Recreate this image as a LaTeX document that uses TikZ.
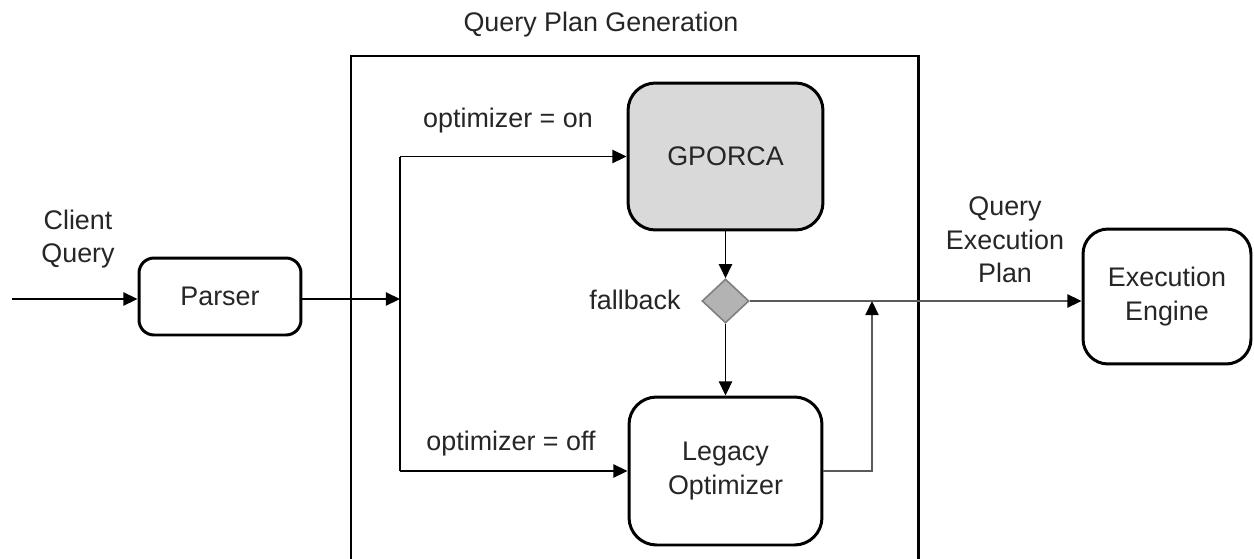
\documentclass[tikz,border=0pt]{standalone}
\usepackage{fontspec}
\setmainfont{Liberation Sans}
\usetikzlibrary{arrows.meta,shapes.geometric}
\definecolor{txt}{HTML}{262626}
\definecolor{gfill}{HTML}{D9D9D9}
\definecolor{dfill}{HTML}{B3B3B3}
\definecolor{dline}{HTML}{7F7F7F}
\definecolor{cline}{HTML}{5A5A5A}
\tikzset{
  every node/.style={font=\fontsize{15.3}{19}\selectfont, text=txt},
  box/.style={draw=black, line width=1.7pt, rounded corners=0.4cm, align=center, inner sep=0pt},
  lbl/.style={align=center, inner sep=0pt},
  conn/.style={draw=black, line width=0.9pt},
  gconn/.style={draw=cline, line width=0.9pt},
  tip/.style={-{Triangle[length=8pt,width=7.5pt,color=black]}},
  decision/.style={diamond, draw=dline, fill=dfill, line width=0.9pt, inner sep=0pt, minimum width=0.94cm, minimum height=0.88cm}
}
\begin{document}
\begin{tikzpicture}[x=0.02cm, y=-0.02cm]
\clip (0,0) rectangle (1254,558);
\fill[white] (0,0) rectangle (1254,558);
% outer frame
\node[lbl] (title) at (601,25) {Query Plan Generation};
\draw[line width=1.7pt] (351,600) -- (351,56) -- (918,56) -- (918,600);
% nodes
\node[box, rounded corners=0.3cm, minimum width=3.24cm, minimum height=1.54cm] (parser) at (220,296.5) {Parser};
\node[box, fill=gfill, rounded corners=0.55cm, minimum width=3.9cm, minimum height=2.94cm] (gporca) at (725.5,156.5) {GPORCA};
\node[box, rounded corners=0.55cm, minimum width=3.86cm, minimum height=2.96cm] (legacy) at (725.5,471) {Legacy\\Optimizer};
\node[box, rounded corners=0.5cm, minimum width=3.36cm, minimum height=2.7cm] (exec) at (1167,296.5) {Execution\\Engine};
\node[decision] (fb) at (725.5,301) {};
% labels
\node[lbl] (client) at (78,239) {Client\\Query};
\node[lbl] (qep) at (1005,240) {Query\\Execution\\Plan};
\node[lbl] (onlbl) at (508,121) {optimizer = on};
\node[lbl] (offlbl) at (511,444) {optimizer = off};
\node[lbl] (fblbl) at (635,300) {fallback};
% coordinates
\coordinate (start) at (12,299);
\coordinate (split) at (400,299);
\coordinate (top) at (split |- gporca.west);
\coordinate (bot) at (split |- legacy.west);
\coordinate (merge) at (872,301);
% connectors
\draw[conn, tip] (start) -- (start -| parser.west);
\draw[conn, tip] (parser.east |- split) -- (split);
\draw[conn] (top) -- (bot);
\draw[conn, tip] (top) -- (gporca.west);
\draw[conn, tip] (bot) -- (legacy.west);
\draw[conn, tip] (gporca.south) -- (fb.north);
\draw[conn, tip] (fb.south) -- (legacy.north);
\draw[gconn, tip] (legacy.east) -| (merge);
\draw[gconn, tip] (fb.east) -- (fb.east -| exec.west);
\end{tikzpicture}
\end{document}
